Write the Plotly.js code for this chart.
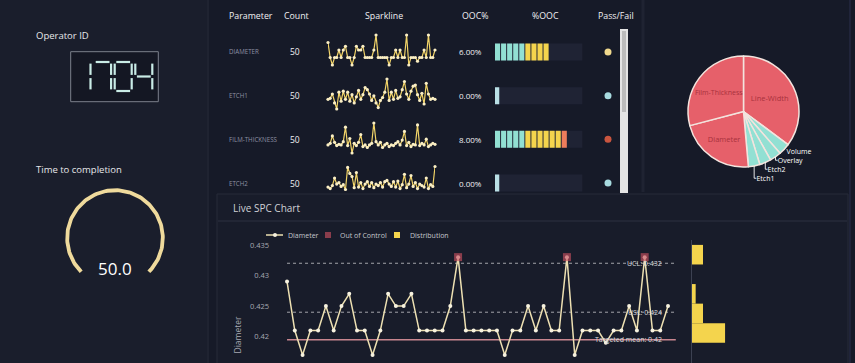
<!DOCTYPE html>
<html><head><meta charset="utf-8">
<script src="https://cdn.plot.ly/plotly-3.0.1.min.js"></script>
<style>
html,body{margin:0;padding:0;background:#161a28;overflow:hidden;}
#wrap{width:855px;height:363px;overflow:hidden;position:relative;}
#chart{width:855px;height:460px;}
</style></head><body>
<div id="wrap"><div id="chart"></div></div>
<script>
// ---------------- data ----------------
const operatorId = "1704";
const timeToCompletion = 50.0;
const parameters = ["Diameter", "Etch1", "Film-Thickness", "Etch2"];
const counts = [50, 50, 50, 50];
const oocPercent = [6.00, 0.00, 8.00, 0.00];
const passFail = ["warn", "pass", "fail", "pass"];
const diameter = [0.429,0.421,0.417,0.421,0.421,0.425,0.421,0.425,0.427,0.421,
                  0.421,0.417,0.421,0.427,0.425,0.425,0.427,0.421,0.421,0.421,
                  0.421,0.425,0.433,0.421,0.421,0.421,0.421,0.421,0.417,0.421,
                  0.421,0.425,0.421,0.425,0.421,0.421,0.433,0.417,0.421,0.421,
                  0.421,0.419,0.421,0.421,0.425,0.421,0.433,0.421,0.421,0.425];
const etch1 = [35,38,50,25,8,55,30,58,35,55, 30,48,25,42,60,35,48,68,62,50,
               32,45,25,12,32,40,55,92,32,55, 35,60,38,42,62,85,50,35,58,72,
               75,48,32,52,22,80,50,35,38,35];
const filmThickness = [30,35,58,38,28,32,30,40,85,28, 50,5,35,28,38,62,25,30,22,30,
                       35,98,40,30,38,22,30,35,25,30, 28,35,40,30,45,72,28,38,25,32,
                       30,92,28,35,30,48,25,30,35,32];
const etch2 = [20,15,25,50,30,35,22,28,12,85, 65,55,18,68,20,35,15,30,38,22,
               35,18,30,25,35,20,38,42,30,22, 38,20,40,15,28,62,18,30,58,22,
               35,15,30,25,20,50,15,28,22,88];
const pieLabels = ["Line-Width", "Volume", "Overlay", "Etch2", "Etch1", "Diameter", "Film-Thickness"];
const pieValues = [35.2, 3.35, 3.35, 3.35, 3.35, 22.3, 29.1];
const ucl = 0.432, usl = 0.424, targetMean = 0.4195;
const distBins = [0.4334, 0.4302, 0.4270, 0.4238, 0.4206];
const distCounts = [3, 0, 1, 3, 9];
const yTicks = [0.42, 0.425, 0.43, 0.435];
const headers = ["Parameter", "Count", "Sparkline", "OOC%", "%OOC", "Pass/Fail"];
const legendNames = ["Diameter", "Out of Control", "Distribution"];

// ---------------- helpers ----------------
const W = 855, H = 460;
const fx = p => p / W;
const fy = p => 1 - p / H;
const FONT = '"Open Sans", "Noto Sans", sans-serif';
const hid = o => Object.assign({visible:false, showgrid:false, zeroline:false, fixedrange:true}, o);
const shapes = [], annotations = [], traces = [];
const txt = (x, y, text, size, color, xanchor, extra) => annotations.push(Object.assign({
  xref:'paper', yref:'paper', x:fx(x), y:fy(y), text:text, showarrow:false,
  xanchor:xanchor||'left', yanchor:'middle', font:{size:size, color:color, family:FONT}}, extra||{}));
const rect = (x0,y0,x1,y1,fill,line,layer) => shapes.push({type:'rect', xref:'paper', yref:'paper', layer:layer||'below',
  x0:fx(x0), x1:fx(x1), y0:fy(y0), y1:fy(y1), fillcolor:fill, line:{width:line?1:0, color:line||'rgba(0,0,0,0)'}});
const hline = (x0,x1,y,color,w,layer) => shapes.push({type:'line', xref:'paper', yref:'paper', layer:layer||'below',
  x0:fx(x0), x1:fx(x1), y0:fy(y), y1:fy(y), line:{color:color, width:w||1}});
const vline = (x,y0,y1,color,w) => shapes.push({type:'line', xref:'paper', yref:'paper', layer:'below',
  x0:fx(x), x1:fx(x), y0:fy(y0), y1:fy(y1), line:{color:color, width:w||1}});

// ---------------- panels ----------------
rect(0, 0, 207, 460, '#1a1e2c');
vline(208, 0, 460, '#1f2331', 2);
rect(217, 194, 848, 460, '#181c2a', '#262a39');
hline(218, 847, 221, '#2c3041', 1.2);
vline(643, 0, 192, '#1f2332', 3);
vline(850, 0, 460, '#20243a', 2);

// ---------------- left panel ----------------
txt(34, 35, 'Operator ID', 9.5, '#e6e7ea');
txt(34, 169, 'Time to completion', 9.5, '#e6e7ea');
rect(70.7, 51.7, 158.3, 101.7, '#141723', '#7c808c');
const SEG = {'0':'abcdef','1':'bc','2':'abged','3':'abgcd','4':'fgbc','5':'afgcd','6':'afgedc','7':'abc','8':'abcdefg','9':'abcdfg'};
const dTop = 62, dBot = 91, dMid = 76.5, dW = 17, gap = 1.6, pitch = 20.6, dStart = 73.5;
operatorId.split('').forEach((ch, i) => {
  const x0 = dStart + i * pitch, x1 = x0 + dW;
  const segs = {
    a:[x0+gap,dTop,x1-gap,dTop], d:[x0+gap,dBot,x1-gap,dBot], g:[x0+gap,dMid,x1-gap,dMid],
    b:[x1,dTop+gap,x1,dMid-gap], c:[x1,dMid+gap,x1,dBot-gap],
    f:[x0,dTop+gap,x0,dMid-gap], e:[x0,dMid+gap,x0,dBot-gap]};
  SEG[ch].split('').forEach(s => {
    const p = segs[s];
    shapes.push({type:'line', xref:'paper', yref:'paper', x0:fx(p[0]), y0:fy(p[1]), x1:fx(p[2]), y1:fy(p[3]),
      line:{color:'#c9ece6', width:2.2}});
  });
});
// gauge arc
const arcX = [], arcY = [];
for (let i = 0; i <= 135; i++) { const a = (225 - 270 * i / 135) * Math.PI / 180; arcX.push(Math.cos(a)); arcY.push(Math.sin(a)); }
traces.push({type:'scatter', mode:'lines', x:arcX, y:arcY, xaxis:'x9', yaxis:'y9', showlegend:false, hoverinfo:'skip',
  line:{color:'#efda9c', width:3.8}});
annotations.push({xref:'x9', yref:'y9', x:0, y:-0.63, text:timeToCompletion.toFixed(1), showarrow:false,
  xanchor:'center', yanchor:'middle', font:{size:17, color:'#ffffff', family:FONT}});

// ---------------- table ----------------
const hdrX = [227, 296, 384, 475, 545, 616];
headers.forEach((h, i) => txt(hdrX[i], 16, h, 8.8, '#f0f0f2', i === 0 ? 'left' : 'center'));
parameters.forEach((p, i) => {
  annotations.push({xref:'paper', yref:'y7', x:fx(227), y:i, text:p.toUpperCase(), showarrow:false, xanchor:'left', yanchor:'middle',
    font:{size:6.2, color:'#8d91a3', family:FONT}});
  annotations.push({xref:'paper', yref:'y7', x:fx(295), y:i, text:String(counts[i]), showarrow:false, xanchor:'center', yanchor:'middle',
    font:{size:8.5, color:'#f0f0f2', family:FONT}});
  annotations.push({xref:'paper', yref:'y7', x:fx(470), y:i, text:oocPercent[i].toFixed(2) + '%', showarrow:false, xanchor:'center', yanchor:'middle',
    font:{size:8, color:'#f0f0f2', family:FONT}});
});
// sparklines
const sparkSeries = [diameter, etch1, filmThickness, etch2];
const sparkDom = [[35,65],[79,109],[123,153],[166.5,189.5]];
const sparkAxes = {};
sparkSeries.forEach((s, i) => {
  const n = i + 3;
  const mn = Math.min(...s), mx = Math.max(...s);
  sparkAxes['xaxis' + n] = hid({domain:[fx(328), fx(435)], range:[0, s.length - 1], anchor:'y' + n});
  sparkAxes['yaxis' + n] = hid({domain:[fy(sparkDom[i][1]), fy(sparkDom[i][0])], range:[mn, mx], anchor:'x' + n});
  traces.push({type:'scatter', mode:'lines+markers', x:s.map((_, k) => k), y:s, xaxis:'x' + n, yaxis:'y' + n,
    showlegend:false, hoverinfo:'skip', cliponaxis:false,
    line:{color:'#f2d468', width:1.2}, marker:{color:'#fbefc4', size:3.2}});
});
// %OOC graduated bars
traces.push({type:'bar', orientation:'h', x:parameters.map(() => 14.4), base:parameters.map(() => 0), y:parameters.map((_, i) => i),
  width:0.39, xaxis:'x7', yaxis:'y7', showlegend:false, hoverinfo:'skip', marker:{color:'#1f2334', line:{width:0}}});
const segX = [], segB = [], segY = [], segC = [];
oocPercent.forEach((v, i) => {
  const n = Math.round(v * 1.5);
  if (n === 0) { segX.push(0.7); segB.push(0); segY.push(i); segC.push('#b9dfe5'); }
  for (let k = 0; k < n; k++) {
    segX.push(0.84); segB.push(k); segY.push(i);
    segC.push(k < 5 ? '#92e0d3' : (k < 11 ? '#f4d44d' : '#ee7d5c'));
  }
});
traces.push({type:'bar', orientation:'h', x:segX, base:segB, y:segY, width:0.39, xaxis:'x7', yaxis:'y7',
  showlegend:false, hoverinfo:'skip', marker:{color:segC, line:{width:0}}});
// pass / fail
const pfColor = {warn:'#f0d98e', pass:'#a8dbe0', fail:'#c9553f'};
traces.push({type:'scatter', mode:'markers', x:passFail.map(() => 0.5), y:passFail.map((_, i) => i), xaxis:'x8', yaxis:'y7',
  showlegend:false, hoverinfo:'skip', marker:{size:7, color:passFail.map(p => pfColor[p])}});
// scrollbar
rect(620, 29, 628, 193, '#e4e4e4');
rect(622, 31, 626, 112, '#bcbcbc');

// ---------------- pie ----------------
traces.push({type:'pie', labels:pieLabels, values:pieValues, sort:false, direction:'clockwise', rotation:0,
  domain:{x:[fx(688), fx(799)], y:[fy(167), fy(56)]},
  marker:{colors:pieValues.map(v => v > 10 ? '#e6606a' : '#92e0d3'), line:{color:'#f3e4de', width:1.5}},
  textinfo:'label', textposition:pieValues.map(v => v > 10 ? 'inside' : 'outside'),
  insidetextorientation:'horizontal',
  insidetextfont:{size:7.5, color:'#a8323d', family:FONT}, outsidetextfont:{size:7, color:'#ffffff', family:FONT},
  showlegend:false, hoverinfo:'skip'});

// ---------------- SPC chart ----------------
txt(231, 208, 'Live SPC Chart', 10, '#cfd1d6');
const idx = diameter.map((_, i) => i);
const lineColor = '#ede0b2', oocColor = 'rgba(200,80,95,0.65)', distColor = '#f4d44d';
traces.push({type:'scatter', mode:'lines+markers', name:legendNames[0], x:idx, y:diameter, xaxis:'x', yaxis:'y',
  line:{color:lineColor, width:1.5}, marker:{color:'#f7f2df', size:4}, cliponaxis:false, showlegend:false, hoverinfo:'skip'});
const oocIdx = idx.filter(i => diameter[i] > ucl);
traces.push({type:'scatter', mode:'markers', name:legendNames[1], x:oocIdx, y:oocIdx.map(i => diameter[i]), xaxis:'x', yaxis:'y',
  marker:{symbol:'square', size:8, color:oocColor}, cliponaxis:false, showlegend:false, hoverinfo:'skip'});
traces.push({type:'bar', orientation:'h', name:legendNames[2], x:distCounts, y:distBins, width:0.0032, xaxis:'x2', yaxis:'y2',
  marker:{color:distColor, line:{width:0}}, showlegend:false, hoverinfo:'skip'});
const specLines = [{v:ucl, label:'UCL: ' + ucl.toFixed(3), dash:'dot', color:'#a3a4ab'},
                   {v:usl, label:'USL: ' + usl.toFixed(3), dash:'dot', color:'#a3a4ab'},
                   {v:targetMean, label:'Targeted mean: ' + targetMean.toFixed(2), dash:'solid', color:'#c8868f'}];
specLines.forEach(s => {
  shapes.push({type:'line', xref:'x', yref:'y', x0:0, x1:diameter.length, y0:s.v, y1:s.v, layer:'below',
    line:{color:s.color, width:s.dash === 'solid' ? 1.6 : 1, dash:s.dash}});
  annotations.push({xref:'x', yref:'y', x:48.5, y:s.v, text:s.label, showarrow:false, xanchor:'right', yanchor:'middle',
    font:{size:7, color:'#dcdcdf', family:FONT}});
});
// compact legend (icons + labels)
const legY = 235;
hline(266, 283, legY, lineColor, 1.5, 'above');
shapes.push({type:'circle', xref:'paper', yref:'paper', x0:fx(273), x1:fx(277), y0:fy(legY + 2), y1:fy(legY - 2),
  fillcolor:'#f7f2df', line:{width:0}});
txt(286, legY, legendNames[0], 7, '#c5c7cc');
rect(325, legY - 3, 331, legY + 3, oocColor, null, 'above');
txt(338, legY, legendNames[1], 7, '#c5c7cc');
rect(394, legY - 3, 400, legY + 3, distColor, null, 'above');
txt(408, legY, legendNames[2], 7, '#c5c7cc');

const yRange = [0.40475, 0.4358];
const layout = Object.assign({
  width:W, height:H, margin:{l:0, r:0, t:0, b:0, pad:0},
  paper_bgcolor:'#161a28', plot_bgcolor:'rgba(0,0,0,0)',
  font:{family:FONT, color:'#e8e8ea'},
  showlegend:false, barmode:'overlay',
  xaxis:hid({domain:[fx(270), fx(688)], range:[-2.19, 51.57], anchor:'y'}),
  yaxis:{domain:[fy(430), fy(240)], range:yRange, anchor:'x', tickvals:yTicks, ticktext:yTicks.map(String),
    showgrid:false, zeroline:false, showline:false, ticks:'', fixedrange:true,
    tickfont:{size:7.5, color:'#a7a9b2', family:FONT},
    title:{text:'Diameter', font:{size:8.5, color:'#a7a9b2', family:FONT}, standoff:6}},
  xaxis2:hid({domain:[fx(692), fx(850)], range:[0, 43], anchor:'y2'}),
  yaxis2:{overlaying:'y', anchor:'x2', range:yRange, showline:true, linecolor:'#3c4152', linewidth:1,
    showticklabels:false, ticks:'', showgrid:false, zeroline:false, fixedrange:true},
  xaxis7:hid({domain:[fx(495), fx(586)], range:[0, 15], anchor:'y7'}),
  yaxis7:hid({domain:[fy(204.85), fy(30.15)], range:[3.5, -0.5], anchor:'x7'}),
  xaxis8:hid({domain:[fx(600), fx(616)], range:[0, 1], anchor:'y7'}),
  xaxis9:hid({domain:[fx(60), fx(170)], range:[-1.15, 1.15], anchor:'y9'}),
  yaxis9:hid({domain:[fy(293), fy(183)], range:[-1.15, 1.15], anchor:'x9'}),
  shapes:shapes, annotations:annotations
}, sparkAxes);

Plotly.newPlot('chart', traces, layout, {staticPlot:true, displayModeBar:false});
</script>
</body></html>
